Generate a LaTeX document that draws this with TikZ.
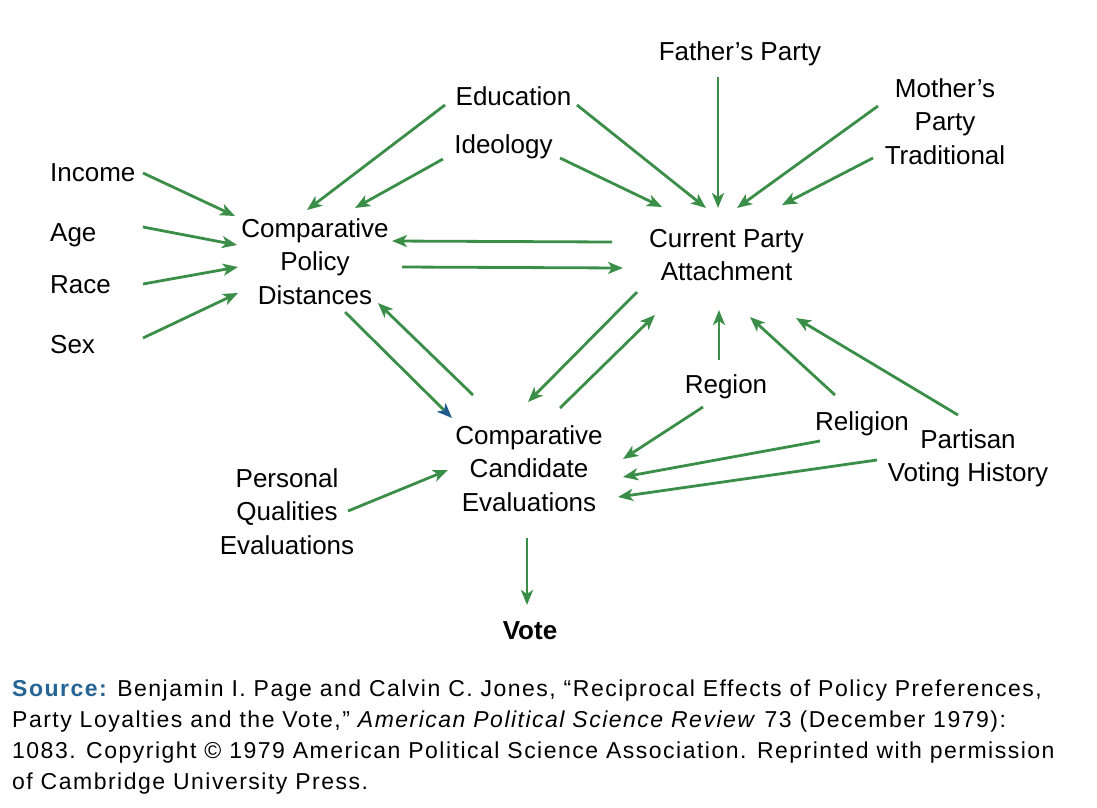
\documentclass[tikz,border=0pt]{standalone}
\usepackage{fontspec}
\setmainfont{Liberation Sans}
\newfontfamily\srcfont[LetterSpace=6.5]{Liberation Sans}
\usetikzlibrary{arrows.meta}
\definecolor{arrgreen}{RGB}{58,142,72}
\definecolor{arrblue}{RGB}{30,90,140}
\definecolor{srcblue}{RGB}{38,100,150}
\newcommand\diafont{\fontsize{26}{33.5}\selectfont}
\tikzset{
  lbl/.style={inner sep=0pt,align=center,font=\diafont},
  arr/.style={draw=arrgreen,line width=2.8pt,-{Stealth[length=15pt,width=12pt,inset=4pt]}},
  arrb/.style={arr,-{Stealth[length=15pt,width=12pt,inset=4pt,color=arrblue]}}
}
\begin{document}
\begin{tikzpicture}[x=1pt,y=-1pt]
  \useasboundingbox (0,0) rectangle (1097,807);
  \node[lbl,anchor=base] (father) at (740,60) {Father’s Party};
  \node[lbl,anchor=base] (educ) at (513.5,105) {Education};
  \node[lbl,anchor=base] (ideol) at (503.5,153) {Ideology};
  \node[lbl,anchor=north] (mother) at (945,78) {Mother’s\\Party\\Traditional};
  \node[lbl,anchor=base west] (income) at (50,181) {Income};
  \node[lbl,anchor=base west] (age) at (50,241) {Age};
  \node[lbl,anchor=base west] (race) at (50,293) {Race};
  \node[lbl,anchor=base west] (sex) at (50,353) {Sex};
  \node[lbl,anchor=north] (cpd) at (315,218) {Comparative\\Policy\\Distances};
  \node[lbl,anchor=north] (cpa) at (726.5,229) {Current Party\\Attachment};
  \node[lbl,anchor=base] (region) at (726,393) {Region};
  \node[lbl,anchor=base] (religion) at (862,430) {Religion};
  \node[lbl,anchor=north] (partisan) at (968,429) {Partisan\\Voting History};
  \node[lbl,anchor=north] (cce) at (529,425) {Comparative\\Candidate\\Evaluations};
  \node[lbl,anchor=north] (pqe) at (287,468) {Personal\\Qualities\\Evaluations};
  \node[lbl,anchor=base,font=\diafont\bfseries] (vote) at (530,639) {Vote};
  \node[anchor=north west,inner sep=0pt,align=left,font=\srcfont\fontsize{23}{31}\selectfont] (source) at (12,680)
    {{\bfseries\color{srcblue}Source:} Benjamin I. Page and Calvin C. Jones, “Reciprocal Effects of Policy Preferences,\\
     Party Loyalties and the Vote,” \textit{American Political Science Review} 73 (December 1979):\\
     1083. Copyright © 1979 American Political Science Association. Reprinted with permission\\
     of Cambridge University Press.};

  \draw[arr] ([shift={(93,-8)}]income.base west) -- ([shift={(-80,-2)}]cpd.north);
  \draw[arr] ([shift={(93,-14)}]age.base west) -- ([shift={(-78,27)}]cpd.north);
  \draw[arr] ([shift={(93,-9)}]race.base west) -- ([shift={(-77,49)}]cpd.north);
  \draw[arr] ([shift={(93,-15)}]sex.base west) -- ([shift={(-77,75)}]cpd.north);
  \draw[arr] ([shift={(-68.5,0)}]educ.base) -- ([shift={(-8,-8)}]cpd.north);
  \draw[arr] ([shift={(-60.5,6)}]ideol.base) -- ([shift={(40,-10)}]cpd.north);
  \draw[arr] ([shift={(63.5,0)}]educ.base) -- ([shift={(-20.5,-21)}]cpa.north);
  \draw[arr] ([shift={(56.5,5)}]ideol.base) -- ([shift={(-64.5,-22)}]cpa.north);
  \draw[arr] ([shift={(-22,17)}]father.base) -- ([shift={(-8.5,-21)}]cpa.north);
  \draw[arr] ([shift={(-67,28)}]mother.north) -- ([shift={(10.5,-21)}]cpa.north);
  \draw[arr] ([shift={(-72,80)}]mother.north) -- ([shift={(55.5,-24)}]cpa.north);
  \draw[arr] ([shift={(-114.5,13)}]cpa.north) -- ([shift={(77,23)}]cpd.north);
  \draw[arr] ([shift={(87,49)}]cpd.north) -- ([shift={(-103.5,39)}]cpa.north);
  \draw[arrb] ([shift={(30,94)}]cpd.north) -- ([shift={(-77,-7)}]cce.north);
  \draw[arr] ([shift={(-56,-30)}]cce.north) -- ([shift={(63,85)}]cpd.north);
  \draw[arr] ([shift={(-89.5,63)}]cpa.north) -- ([shift={(-1,-23)}]cce.north);
  \draw[arr] ([shift={(31,-17)}]cce.north) -- ([shift={(-71.5,86)}]cpa.north);
  \draw[arr] ([shift={(-7,-33)}]region.base) -- ([shift={(-7.5,81)}]cpa.north);
  \draw[arr] ([shift={(-27,-35)}]religion.base) -- ([shift={(23.5,88)}]cpa.north);
  \draw[arr] ([shift={(-10,-14)}]partisan.north) -- ([shift={(69.5,89)}]cpa.north);
  \draw[arr] ([shift={(-23,14)}]region.base) -- ([shift={(94,34)}]cce.north);
  \draw[arr] ([shift={(-42,11)}]religion.base) -- ([shift={(94,52)}]cce.north);
  \draw[arr] ([shift={(-91,31)}]partisan.north) -- ([shift={(89,72)}]cce.north);
  \draw[arr] ([shift={(61,43)}]pqe.north) -- ([shift={(-81,45)}]cce.north);
  \draw[arr] ([shift={(-2,113)}]cce.north) -- ([shift={(-3,-34)}]vote.base);
\end{tikzpicture}
\end{document}
